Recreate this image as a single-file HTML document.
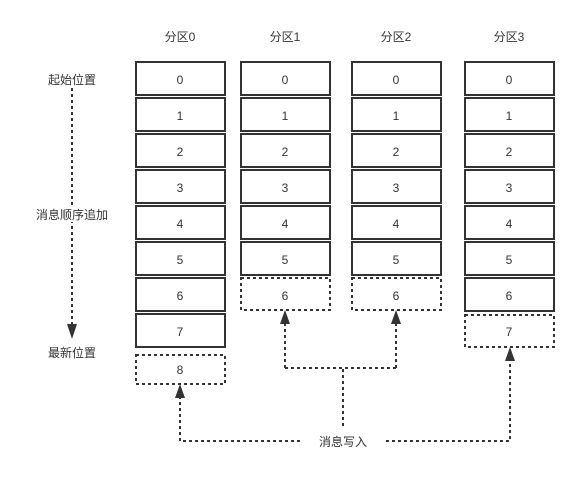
<!DOCTYPE html>
<html><head><meta charset="utf-8"><style>
html,body{margin:0;padding:0;background:#fff;}
svg{display:block;}
text{font-family:"Liberation Sans","Noto Sans CJK SC",sans-serif;font-size:12px;fill:#333;}
</style></head><body>
<svg width="579" height="479" viewBox="0 0 579 479" xmlns="http://www.w3.org/2000/svg">
<g fill="none" stroke="#333" stroke-width="2" stroke-dasharray="3,3">
<path d="M72,88 V326"/>
<path d="M300,441 H180 V398"/>
<path d="M386,441 H510 V361"/>
<path d="M343,426 V368"/>
<path d="M285,368 H396"/>
<path d="M285,368 V324"/>
<path d="M396,368 V324"/>
</g>
<g fill="#333">
<polygon points="67,324 77,324 72,339"/>
<polygon points="175,398 185,398 180,384"/>
<polygon points="280,324 290,324 285,310"/>
<polygon points="391,324 401,324 396,310"/>
<polygon points="505,361 515,361 510,347"/>
</g>
<rect x="34" y="206" width="76" height="16" fill="#fff"/>
<g text-anchor="middle">
<text x="180" y="41">分区0</text>
<text x="285" y="41">分区1</text>
<text x="396" y="41">分区2</text>
<text x="509" y="41">分区3</text>
<text x="72" y="84">起始位置</text>
<text x="72" y="219">消息顺序追加</text>
<text x="72" y="357">最新位置</text>
<text x="343" y="446">消息写入</text>
</g>
<g fill="#fff" stroke="#333" stroke-width="2">
<rect x="136" y="62" width="89" height="33"/><rect x="136" y="98" width="89" height="33"/>
<rect x="136" y="134" width="89" height="33"/><rect x="136" y="170" width="89" height="33"/>
<rect x="136" y="206" width="89" height="33"/><rect x="136" y="242" width="89" height="33"/>
<rect x="136" y="278" width="89" height="33"/><rect x="136" y="314" width="89" height="33"/>
<rect x="241" y="62" width="89" height="33"/><rect x="241" y="98" width="89" height="33"/>
<rect x="241" y="134" width="89" height="33"/><rect x="241" y="170" width="89" height="33"/>
<rect x="241" y="206" width="89" height="33"/><rect x="241" y="242" width="89" height="33"/>
<rect x="352" y="62" width="89" height="33"/><rect x="352" y="98" width="89" height="33"/>
<rect x="352" y="134" width="89" height="33"/><rect x="352" y="170" width="89" height="33"/>
<rect x="352" y="206" width="89" height="33"/><rect x="352" y="242" width="89" height="33"/>
<rect x="465" y="62" width="89" height="33"/><rect x="465" y="98" width="89" height="33"/>
<rect x="465" y="134" width="89" height="33"/><rect x="465" y="170" width="89" height="33"/>
<rect x="465" y="206" width="89" height="33"/><rect x="465" y="242" width="89" height="33"/>
<rect x="465" y="278" width="89" height="33"/>
</g>
<g fill="none" stroke="#333" stroke-width="2" stroke-dasharray="3,3">
<rect x="136" y="355" width="89" height="29"/>
<rect x="241" y="278" width="89" height="32"/>
<rect x="352" y="278" width="89" height="32"/>
<rect x="465" y="315" width="89" height="32"/>
</g>
<g text-anchor="middle">
<text x="180" y="84">0</text><text x="180" y="120">1</text><text x="180" y="156">2</text><text x="180" y="192">3</text>
<text x="180" y="228">4</text><text x="180" y="264">5</text><text x="180" y="300">6</text><text x="180" y="336">7</text><text x="180" y="374">8</text>
<text x="285" y="84">0</text><text x="285" y="120">1</text><text x="285" y="156">2</text><text x="285" y="192">3</text>
<text x="285" y="228">4</text><text x="285" y="264">5</text><text x="285" y="300">6</text>
<text x="396" y="84">0</text><text x="396" y="120">1</text><text x="396" y="156">2</text><text x="396" y="192">3</text>
<text x="396" y="228">4</text><text x="396" y="264">5</text><text x="396" y="300">6</text>
<text x="509" y="84">0</text><text x="509" y="120">1</text><text x="509" y="156">2</text><text x="509" y="192">3</text>
<text x="509" y="228">4</text><text x="509" y="264">5</text><text x="509" y="300">6</text><text x="509" y="336">7</text>
</g>
</svg>
</body></html>
